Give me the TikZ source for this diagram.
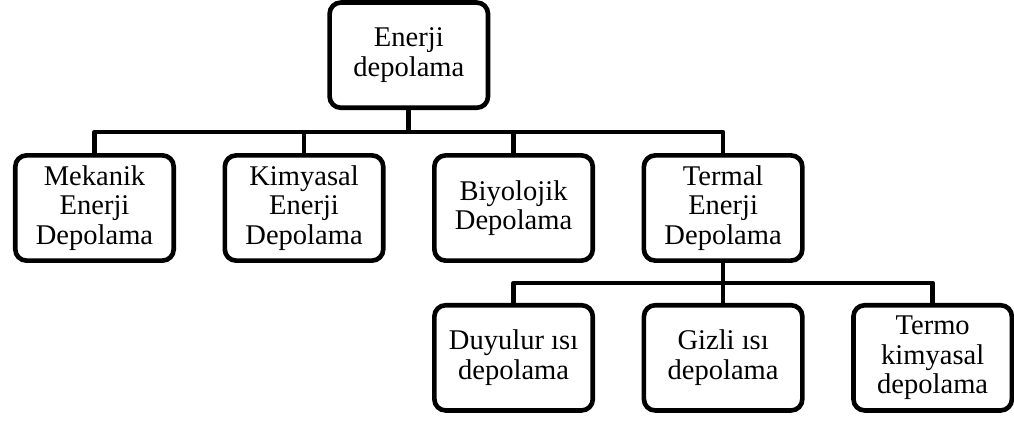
\documentclass[tikz,border=0pt]{standalone}
\usepackage{fontspec}
\setmainfont{Liberation Serif}
\usetikzlibrary{positioning, calc}

\begin{document}
\begin{tikzpicture}[node distance=1.0cm and 1.1625cm,
      every node/.style={align=center},
      box/.style={draw, line width=3.3pt, rounded corners=0.28cm, minimum width=3.96cm, minimum height=2.63cm,
        font=\fontsize{20.3}{21}\selectfont},
      link/.style={line width=3.3pt, line join=round}]

    \useasboundingbox (0,0) rectangle (25.35,-10.525);

    \node[box] (mek) at (2.3625,-5.2) {Mekanik\\Enerji\\Depolama};
    \node[box, right=of mek] (kim) {Kimyasal\\Enerji\\Depolama};
    \node[box, right=of kim] (biy) {Biyolojik\\Depolama};
    \node[box, right=of biy] (ter) {Termal\\Enerji\\Depolama};

    \coordinate (mid) at ($(kim.north)!0.5!(biy.north)$);
    \node[box, above=1.075cm of mid] (top) {Enerji\\depolama};

    \node[box, below=of ter] (gizli) {Gizli ısı\\depolama};
    \node[box, left=of gizli] (duy) {Duyulur ısı\\depolama};
    \node[box, right=of gizli] (termo) {Termo\\kimyasal\\depolama};

    \foreach \n in {mek, kim, biy, ter}
      \draw[link] (top.south) -- ++(0,-0.55) -| (\n.north);
    \foreach \n in {duy, gizli, termo}
      \draw[link] (ter.south) -- ++(0,-0.5) -| (\n.north);
  \end{tikzpicture}
\end{document}
